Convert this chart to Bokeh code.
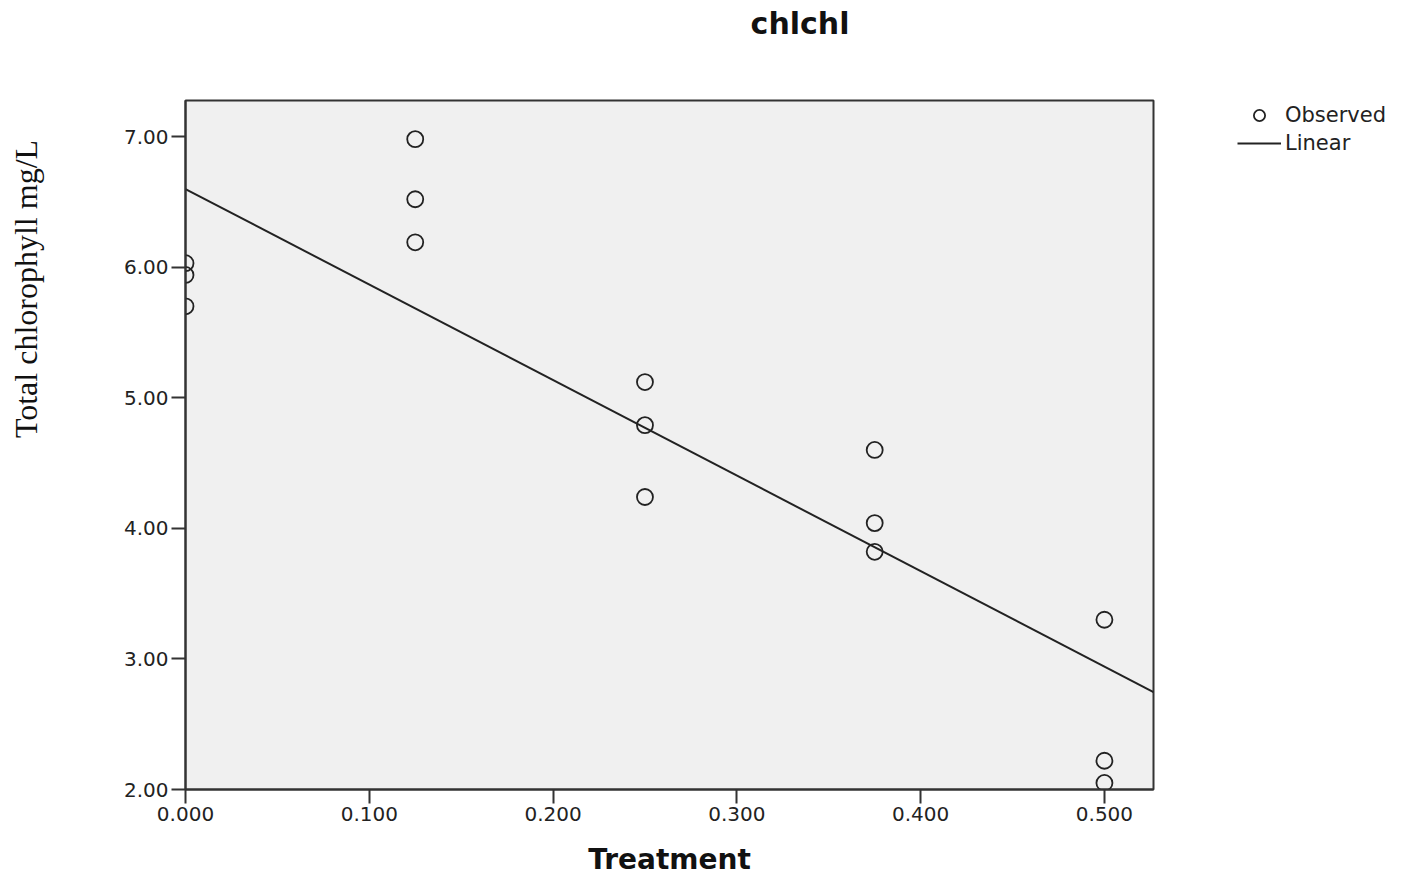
import numpy as np
from bokeh.plotting import figure
from bokeh.layouts import row
from bokeh.models import (Range1d, FixedTicker, PrintfTickFormatter, Legend,
                          LegendItem, LinearAxis, ColumnDataSource)
from bokeh.embed import file_html
from bokeh.resources import INLINE

# ---- data ----
title_text = "chlchl"
x_label = "Treatment"
y_label = "Total chlorophyll mg/L"
legend_labels = ["Observed", "Linear"]
treatment = [0.0, 0.0, 0.0,
             0.125, 0.125, 0.125,
             0.25, 0.25, 0.25,
             0.375, 0.375, 0.375,
             0.5, 0.5, 0.5]
chlorophyll = [6.03, 5.94, 5.70,
               6.98, 6.52, 6.19,
               5.12, 4.79, 4.24,
               4.60, 4.04, 3.82,
               3.30, 2.22, 2.05]
x_ticks = [0.0, 0.1, 0.2, 0.3, 0.4, 0.5]
y_ticks = [2.0, 3.0, 4.0, 5.0, 6.0, 7.0]
x_min, x_max = 0.0, 0.5267
y_min, y_max = 2.0, 7.276

# linear fit
slope, intercept = np.polyfit(treatment, chlorophyll, 1)
fit_x = [x_min, x_max]
fit_y = [intercept + slope * v for v in fit_x]

NBSP = "\u00a0"

p = figure(width=1163, height=881, output_backend="svg", toolbar_location=None,
           x_range=Range1d(x_min, x_max), y_range=Range1d(y_min, y_max),
           min_border_left=185, min_border_right=10, min_border_top=100,
           min_border_bottom=92)
p.background_fill_color = "#F0F0F0"
p.border_fill_color = "white"
p.outline_line_color = "#333333"
p.outline_line_width = 2
p.xgrid.visible = False
p.ygrid.visible = False

for ax in (p.xaxis[0], p.yaxis[0]):
    ax.axis_line_color = "#333333"
    ax.axis_line_width = 2
    ax.major_tick_line_color = "#333333"
    ax.major_tick_line_width = 2
    ax.major_tick_in = 0
    ax.major_tick_out = 14
    ax.minor_tick_line_color = None
    ax.major_label_text_font = "DejaVu Sans"
    ax.major_label_text_font_size = "20px"
    ax.major_label_text_color = "#222222"
    ax.major_label_standoff = 3

p.xaxis.ticker = FixedTicker(ticks=x_ticks)
p.yaxis.ticker = FixedTicker(ticks=y_ticks)
p.xaxis.formatter = PrintfTickFormatter(format="%.3f")
p.yaxis.formatter = PrintfTickFormatter(format="%.2f")

# x axis label
p.xaxis.axis_label = x_label
p.xaxis.axis_label_standoff = 19
p.xaxis.axis_label_text_font = "DejaVu Sans"
p.xaxis.axis_label_text_font_style = "bold"
p.xaxis.axis_label_text_font_size = "28px"
p.xaxis.axis_label_text_color = "#111111"


def label_axis(text, standoff, font, size, style):
    return LinearAxis(ticker=FixedTicker(ticks=[]),
                      axis_line_color=None, major_tick_out=0, major_tick_in=0,
                      major_tick_line_color=None, minor_tick_line_color=None,
                      major_label_standoff=0, major_label_text_font_size="0px",
                      axis_label=text, axis_label_standoff=standoff,
                      axis_label_text_font=font, axis_label_text_font_size=size,
                      axis_label_text_font_style=style,
                      axis_label_text_color="#111111")


# y axis label (outer left axis); leading no-break spaces move it up
p.add_layout(label_axis(NBSP * 39 + y_label, 77, "Liberation Serif",
                        "32px", "normal"), "left")
# title (top axis); leading no-break spaces move it right
p.add_layout(label_axis(NBSP * 25 + title_text, 60, "DejaVu Sans",
                        "30px", "bold"), "above")

src = ColumnDataSource(dict(x=treatment, y=chlorophyll))
fit_src = ColumnDataSource(dict(x=fit_x, y=fit_y))
obs_style = dict(marker="circle", size=16, fill_color=None,
                 line_color="#222222", line_width=1.8)
lin_style = dict(line_color="#222222", line_width=2)
p.scatter("x", "y", source=src, **obs_style)
p.line("x", "y", source=fit_src, **lin_style)

# legend panel on the right (frame aligned with the main frame); its own
# ranges keep the data out of view so only the legend shows
q = figure(width=244, height=881, output_backend="svg", toolbar_location=None,
           x_range=Range1d(10, 11), y_range=Range1d(10, 11),
           min_border_left=0, min_border_right=0, min_border_top=100,
           min_border_bottom=92, x_axis_type=None, y_axis_type=None)
q.outline_line_color = None
q.background_fill_color = "white"
q.border_fill_color = "white"
q.xgrid.visible = False
q.ygrid.visible = False
l_obs = q.scatter("x", "y", source=src, **obs_style)
l_lin = q.line("x", "y", source=fit_src, **lin_style)

legend = Legend(items=[LegendItem(label=legend_labels[0], renderers=[l_obs]),
                       LegendItem(label=legend_labels[1], renderers=[l_lin])],
                location=(74, 632), padding=0, margin=0, spacing=0,
                glyph_width=44, glyph_height=28, label_height=28,
                label_standoff=4, border_line_color=None,
                background_fill_alpha=0,
                label_text_font="DejaVu Sans", label_text_font_size="21px",
                label_text_color="#222222")
q.add_layout(legend)

layout = row(p, q, spacing=0)
open("out.html", "w").write(file_html(layout, INLINE))
